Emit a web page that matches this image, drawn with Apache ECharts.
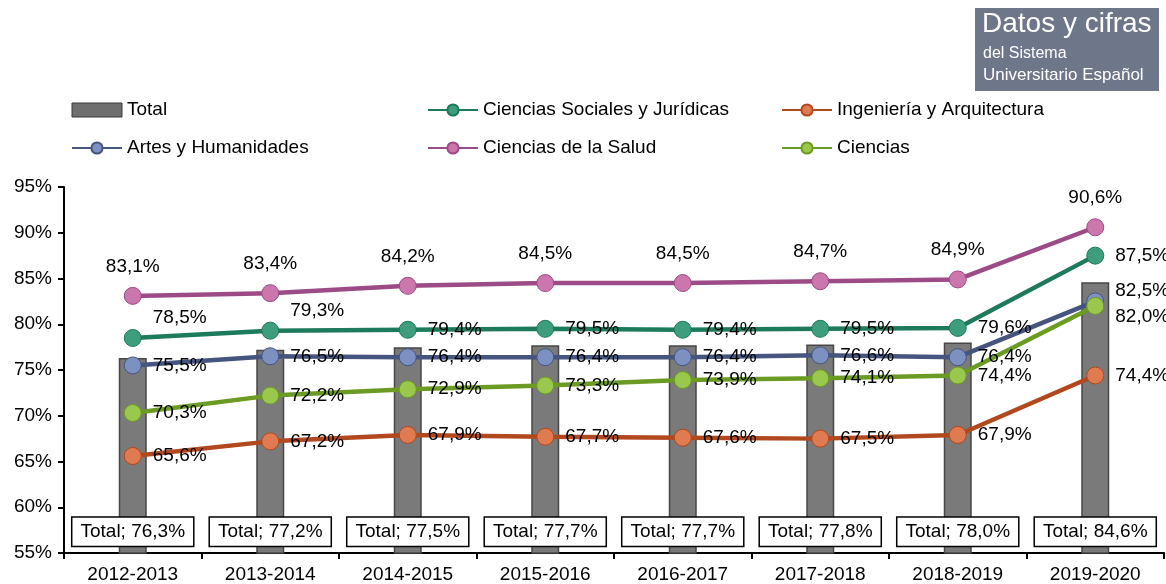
<!DOCTYPE html>
<html>
<head>
<meta charset="utf-8">
<title>Tasa de rendimiento por rama</title>
<script src="https://cdn.jsdelivr.net/npm/echarts@6.0.0/dist/echarts.min.js"></script>
<style>
    html, body { margin: 0; padding: 0; background: #fff; }
    #container { width: 1166px; height: 584px; }
</style>
</head>
<body>
<div id="container"></div>
<script>
var cursos = ['2012-2013', '2013-2014', '2014-2015', '2015-2016', '2016-2017', '2017-2018', '2018-2019', '2019-2020'];

var total = [76.3, 77.2, 77.5, 77.7, 77.7, 77.8, 78.0, 84.6];
var sociales = [78.5, 79.3, 79.4, 79.5, 79.4, 79.5, 79.6, 87.5];
var ingenieria = [65.6, 67.2, 67.9, 67.7, 67.6, 67.5, 67.9, 74.4];
var artes = [75.5, 76.5, 76.4, 76.4, 76.4, 76.6, 76.4, 82.5];
var salud = [83.1, 83.4, 84.2, 84.5, 84.5, 84.7, 84.9, 90.6];
var ciencias = [70.3, 72.2, 72.9, 73.3, 73.9, 74.1, 74.4, 82.0];

var yMin = 55, yMax = 95, yStep = 5;

var FONT = "'Liberation Sans', Arial, sans-serif";
var FS = 19;

// 83.1 -> "83,1%"
function pct(v) {
    return v.toFixed(1).replace('.', ',') + '%';
}

// puntos cuya etiqueta se desplaza respecto a la posicion normal
function puntos(values, offsets) {
    return values.map(function (v, i) {
        if (offsets && offsets[i]) {
            return { value: v, label: { offset: offsets[i] } };
        }
        return v;
    });
}

function linea(name, values, lineColor, dotColor, pos, offsets) {
    return {
        name: name,
        type: 'line',
        z: 3,
        data: puntos(values, offsets),
        symbol: 'circle',
        symbolSize: 17,
        lineStyle: { color: lineColor, width: 4.5 },
        itemStyle: { color: dotColor, borderColor: lineColor, borderWidth: 1 },
        label: {
            show: true,
            position: pos,
            distance: pos === 'top' ? 11 : 11,
            color: '#000',
            fontSize: FS,
            fontFamily: FONT,
            formatter: function (p) { return pct(p.value); }
        },
        emphasis: { disabled: true },
        animation: false
    };
}

var legendText = { color: '#000', fontSize: FS, fontFamily: FONT, lineHeight: 20 };

function leyenda(left, names) {
    return {
        orient: 'vertical',
        left: left,
        top: 95,
        itemWidth: 50,
        itemHeight: 14,
        itemGap: 18,
        textStyle: legendText,
        selectedMode: false,
        data: names
    };
}

var option = {
    backgroundColor: '#fff',
    animation: false,
    textStyle: { fontFamily: FONT },
    grid: { left: 64, right: 2, top: 187, bottom: 31 },
    legend: [
        leyenda(66, [
            { name: 'Total', icon: 'rect', itemStyle: { color: '#6f6f6f', borderColor: '#3a3a3a', borderWidth: 1 } },
            'Artes y Humanidades'
        ]),
        leyenda(422, ['Ciencias Sociales y Jurídicas', 'Ciencias de la Salud']),
        leyenda(776, ['Ingeniería y Arquitectura', 'Ciencias'])
    ],
    xAxis: {
        type: 'category',
        data: cursos,
        boundaryGap: true,
        axisLine: { lineStyle: { color: '#000', width: 2 } },
        axisTick: { show: true, length: 6, lineStyle: { color: '#000', width: 2 } },
        axisLabel: { color: '#000', fontSize: FS, fontFamily: FONT, margin: 12 }
    },
    yAxis: {
        type: 'value',
        min: yMin,
        max: yMax,
        interval: yStep,
        axisLine: { show: true, lineStyle: { color: '#000', width: 2 } },
        axisTick: { show: true, length: 6, lineStyle: { color: '#000', width: 2 } },
        splitLine: { show: false },
        axisLabel: { color: '#000', fontSize: FS, fontFamily: FONT, margin: 12, formatter: '{value}%' }
    },
    graphic: [
        {
            type: 'rect',
            left: 975, top: 8,
            shape: { width: 184, height: 83 },
            style: { fill: '#6e7689' }
        },
        {
            type: 'text', left: 982, top: 10,
            style: { text: 'Datos y cifras', fill: '#fff', font: '28px ' + FONT }
        },
        {
            type: 'text', left: 983, top: 46,
            style: { text: 'del Sistema', fill: '#fff', font: '16px ' + FONT }
        },
        {
            type: 'text', left: 983, top: 67,
            style: { text: 'Universitario Español', fill: '#fff', font: '17px ' + FONT }
        }
    ],
    series: [
        {
            name: 'Total',
            type: 'bar',
            z: 2,
            data: total,
            barWidth: 28,
            itemStyle: { color: '#7a7a7a', borderColor: '#474747', borderWidth: 1.5 },
            label: {
                show: true,
                position: 'insideBottom',
                distance: 8,
                color: '#000',
                fontSize: FS,
                fontFamily: FONT,
                lineHeight: 20,
                backgroundColor: '#fff',
                borderColor: '#000',
                borderWidth: 1.5,
                padding: [4, 8],
                formatter: function (p) { return 'Total; ' + pct(p.value); }
            },
            emphasis: { disabled: true }
        },
        linea('Ciencias Sociales y Jurídicas', sociales, '#1d7a5c', '#3d9d7c', 'right', { 0: [0, -20], 1: [0, -20] }),
        linea('Ingeniería y Arquitectura', ingenieria, '#b2481e', '#e07a50', 'right'),
        linea('Artes y Humanidades', artes, '#45557f', '#7c90c2', 'right', { 7: [0, -11] }),
        linea('Ciencias de la Salud', salud, '#9c4b86', '#cb76ad', 'top'),
        linea('Ciencias', ciencias, '#6b9b22', '#99c84d', 'right', { 7: [0, 11] })
    ]
};

echarts.init(document.getElementById('container')).setOption(option);
</script>
</body>
</html>
